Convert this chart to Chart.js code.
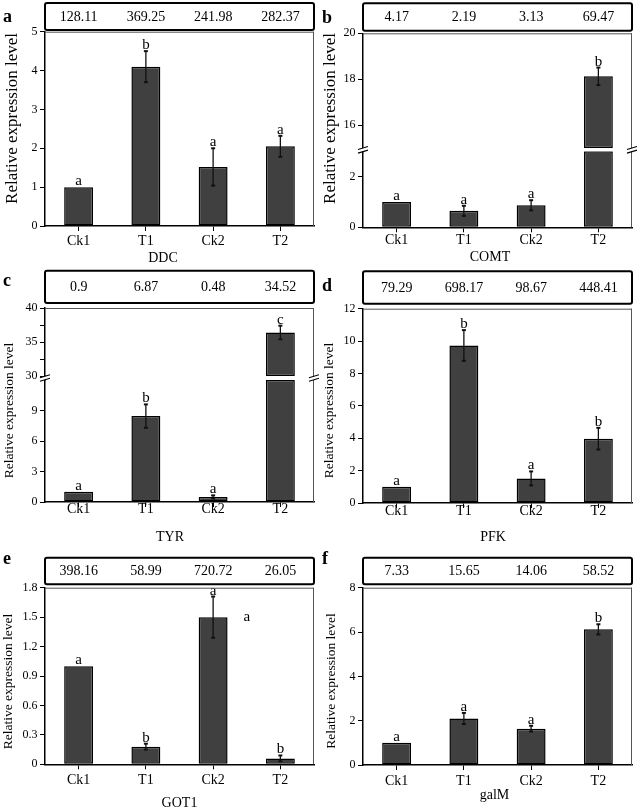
<!DOCTYPE html>
<html>
<head>
<meta charset="utf-8">
<script src="https://cdn.jsdelivr.net/npm/chart.js@4.4.0/dist/chart.umd.min.js"></script>
<style>
  html, body { margin: 0; padding: 0; background: #fff; }
  #fig { position: relative; width: 638px; height: 809px; overflow: hidden; background: #fff; }
  #fig canvas { position: absolute; }
</style>
</head>
<body>
<div id="fig">
  <canvas id="pA" width="319" height="280" style="left:0;top:0"></canvas>
  <canvas id="pB" width="319" height="280" style="left:319px;top:0"></canvas>
  <canvas id="pC" width="319" height="280" style="left:0;top:268px"></canvas>
  <canvas id="pD" width="319" height="280" style="left:319px;top:268px"></canvas>
  <canvas id="pE" width="319" height="280" style="left:0;top:536px"></canvas>
  <canvas id="pF" width="319" height="280" style="left:319px;top:536px"></canvas>
</div>
<script>
const FONT = "'Liberation Serif', 'Times New Roman', serif";

const categories = ['Ck1', 'T1', 'Ck2', 'T2'];

// --- a: DDC ---
const ddcValues = [1.0, 4.1, 1.52, 2.05];
const ddcErrors = [0, 0.4, 0.48, 0.27];
const ddcLetters = ['a', 'b', 'a', 'a'];
const ddcFold = [128.11, 369.25, 241.98, 282.37];
const ddcTicks = [0, 1, 2, 3, 4, 5];

// --- b: COMT (broken axis) ---
const comtValues = [1.0, 0.65, 0.87, 18.13];
const comtErrors = [0, 0.2, 0.2, 0.38];
const comtLetters = ['a', 'a', 'a', 'b'];
const comtFold = [4.17, 2.19, 3.13, 69.47];
const comtTicksLow = [0, 2];
const comtTicksHigh = [16, 18, 20];
const comtRangeLow = [0, 3];
const comtRangeHigh = [15, 20];

// --- c: TYR (broken axis) ---
const tyrValues = [1.0, 8.45, 0.5, 36.4];
const tyrErrors = [0, 1.15, 0.15, 1.0];
const tyrLetters = ['a', 'b', 'a', 'c'];
const tyrFold = [0.9, 6.87, 0.48, 34.52];
const tyrTicksLow = [0, 3, 6, 9];
const tyrTicksHigh = [30, 32.5, 35, 37.5, 40];
const tyrMinorHigh = [32.5, 37.5];
const tyrRangeLow = [0, 12];
const tyrRangeHigh = [30, 40];

// --- d: PFK ---
const pfkValues = [1.0, 9.73, 1.52, 3.97];
const pfkErrors = [0, 0.95, 0.43, 0.67];
const pfkLetters = ['a', 'b', 'a', 'b'];
const pfkFold = [79.29, 698.17, 98.67, 448.41];
const pfkTicks = [0, 2, 4, 6, 8, 10, 12];

// --- e: GOT1 ---
const gotValues = [1.0, 0.18, 1.5, 0.06];
const gotErrors = [0, 0.03, 0.21, 0.03];
const gotLetters = ['a', 'b', 'a', 'b'];
const gotFold = [398.16, 58.99, 720.72, 26.05];
const gotTicks = [0, 0.3, 0.6, 0.9, 1.2, 1.5, 1.8];

// --- f: galM ---
const galValues = [1.0, 2.1, 1.64, 6.12];
const galErrors = [0, 0.25, 0.13, 0.23];
const galLetters = ['a', 'a', 'a', 'b'];
const galFold = [7.33, 15.65, 14.06, 58.52];
const galTicks = [0, 2, 4, 6, 8];

// panel layout (canvas-local pixels)
const panels = [
  { id: 'pA', tag: 'a', gene: 'DDC', values: ddcValues, errors: ddcErrors, letters: ddcLetters, fold: ddcFold,
    ticks: ddcTicks, range: [0, 5],
    area: { left: 45, right: 314, top: 31.7, bottom: 226 }, boxY: [3, 30], tickY: 241,
    xTitle: [163, 258], yTitle: [13, 118.5, 17], tagY: 22 },
  { id: 'pB', tag: 'b', gene: 'COMT', values: comtValues, errors: comtErrors, letters: comtLetters, fold: comtFold,
    ticks: comtTicksLow, range: comtRangeLow, ticksHigh: comtTicksHigh, rangeHigh: comtRangeHigh, weights: [115, 3, 76],
    area: { left: 44, right: 313, top: 33.3, bottom: 227.3 }, boxY: [3.3, 30.7], tickY: 240.5,
    xTitle: [171, 257], yTitle: [12, 118.5, 17], tagY: 22.5 },
  { id: 'pC', tag: 'c', gene: 'TYR', values: tyrValues, errors: tyrErrors, letters: tyrLetters, fold: tyrFold,
    ticks: tyrTicksLow, range: tyrRangeLow, ticksHigh: tyrTicksHigh, minor: tyrMinorHigh, rangeHigh: tyrRangeHigh, weights: [68, 4, 122],
    area: { left: 45, right: 314, top: 40, bottom: 234 }, boxY: [2.7, 35], tickY: 241,
    xTitle: [170, 269], yTitle: [9, 142.5, 13.5], tagY: 17.5 },
  { id: 'pD', tag: 'd', gene: 'PFK', values: pfkValues, errors: pfkErrors, letters: pfkLetters, fold: pfkFold,
    ticks: pfkTicks, range: [0, 12],
    area: { left: 44, right: 313, top: 40.7, bottom: 235 }, boxY: [3.3, 35.7], tickY: 243.3,
    xTitle: [174, 269.5], yTitle: [10.5, 142.5, 13.5], tagY: 23 },
  { id: 'pE', tag: 'e', gene: 'GOT1', values: gotValues, errors: gotErrors, letters: gotLetters, fold: gotFold,
    ticks: gotTicks, range: [0, 1.8], stray: [{ text: 'a', cat: 2.5, value: 1.5 }],
    area: { left: 45, right: 314, top: 51.7, bottom: 228.3 }, boxY: [21.7, 48.3], tickY: 244,
    xTitle: [179.5, 267], yTitle: [8.5, 145.5, 13.5], tagY: 28.3 },
  { id: 'pF', tag: 'f', gene: 'galM', values: galValues, errors: galErrors, letters: galLetters, fold: galFold,
    ticks: galTicks, range: [0, 8],
    area: { left: 44, right: 313, top: 51.7, bottom: 229 }, boxY: [21.7, 48.3], tickY: 245,
    xTitle: [175.5, 259], yTitle: [12, 145, 13.5], tagY: 28.3 }
];

function line(ctx, x1, y1, x2, y2) {
  ctx.beginPath(); ctx.moveTo(x1, y1); ctx.lineTo(x2, y2); ctx.stroke();
}

function breakMark(ctx, x, y) {
  const d = 1.8;
  ctx.save();
  ctx.fillStyle = '#fff';
  ctx.beginPath();
  ctx.moveTo(x - 5, y - d + 1.5); ctx.lineTo(x + 5, y - d - 1.5);
  ctx.lineTo(x + 5, y + d - 1.5); ctx.lineTo(x - 5, y + d + 1.5);
  ctx.closePath(); ctx.fill();
  ctx.strokeStyle = '#000'; ctx.lineWidth = 1.1;
  line(ctx, x - 5, y - d + 1.5, x + 5, y - d - 1.5);
  line(ctx, x - 5, y + d + 1.5, x + 5, y + d - 1.5);
  ctx.restore();
}

function yScale(cfg, tickArr, range, extra) {
  return Object.assign({
    type: 'linear', position: 'left', min: range[0], max: range[1],
    border: { color: '#000', width: 1.5 },
    grid: { drawOnChartArea: false, color: '#000', tickLength: 5, tickWidth: 1 },
    ticks: {
      color: '#000', font: { family: FONT, size: 12 }, padding: 2.5, autoSkip: false,
      callback: v => (cfg.minor && cfg.minor.includes(v)) ? '' : String(v)
    },
    afterBuildTicks: s => { s.ticks = tickArr.map(v => ({ value: v })); },
    afterFit: s => { s.width = cfg.area.left; }
  }, extra || {});
}

function makePanel(cfg) {
  const canvas = document.getElementById(cfg.id);
  const W = canvas.width, H = canvas.height;
  const A = cfg.area;
  const broken = !!cfg.rangeHigh;
  const barStyle = {
    backgroundColor: '#404040', borderColor: '#000', borderWidth: 1.5, borderSkipped: false,
    barPercentage: 0.43, categoryPercentage: 1, grouped: false
  };

  let datasets, scales = {
    x: {
      type: 'category', offset: true,
      border: { color: '#000', width: 1.5 },
      grid: { drawOnChartArea: false, offset: false, color: '#000', tickLength: 5 },
      ticks: { color: '#000', font: { family: FONT, size: 14 }, padding: cfg.tickY - A.bottom - 5 - 8.4, maxRotation: 0, autoSkip: false },
      afterFit: s => { s.height = H - A.bottom; }
    }
  };

  if (broken) {
    const lowMax = cfg.range[1], highMin = cfg.rangeHigh[0];
    datasets = [
      Object.assign({ data: cfg.values.map(v => [cfg.range[0], Math.min(v, lowMax)]), yAxisID: 'y' }, barStyle),
      Object.assign({ data: cfg.values.map(v => v > highMin ? [highMin, v] : null), yAxisID: 'yHigh' }, barStyle)
    ];
    scales.yHigh = yScale(cfg, cfg.ticksHigh, cfg.rangeHigh, { stack: 'y', stackWeight: cfg.weights[0], weight: 3 });
    scales.yGap = yScale(cfg, [], [0, 1], {
      stack: 'y', stackWeight: cfg.weights[1], weight: 2,
      grid: { display: false }, ticks: { display: false }
    });
    scales.y = yScale(cfg, cfg.ticks, cfg.range, { stack: 'y', stackWeight: cfg.weights[2], weight: 1 });
  } else {
    datasets = [Object.assign({ data: cfg.values, yAxisID: 'y' }, barStyle)];
    scales.y = yScale(cfg, cfg.ticks, cfg.range);
  }

  const extras = {
    id: 'extras' + cfg.tag,
    afterDatasetsDraw(chart) {
      const ctx = chart.ctx, xs = chart.scales.x;
      ctx.save();
      cfg.values.forEach((v, i) => {
        const ys = (broken && v > cfg.range[1]) ? chart.scales.yHigh : chart.scales.y;
        const cx = xs.getPixelForValue(i);
        const e = cfg.errors[i];
        const yTop = ys.getPixelForValue(v + e);
        if (e > 0) {
          const yBot = ys.getPixelForValue(v - e);
          ctx.strokeStyle = '#111';
          ctx.lineWidth = 1.3;
          line(ctx, cx, yTop, cx, yBot);
          ctx.lineWidth = 2;
          line(ctx, cx - 2, yTop, cx + 2, yTop);
          line(ctx, cx - 2, yBot, cx + 2, yBot);
        }
        ctx.fillStyle = '#000';
        ctx.font = '15px ' + FONT;
        ctx.textAlign = 'center';
        ctx.textBaseline = 'alphabetic';
        ctx.fillText(cfg.letters[i], cx, yTop - 2);
      });
      (cfg.stray || []).forEach(s => {
        ctx.textBaseline = 'middle';
        ctx.fillText(s.text, xs.getPixelForValue(s.cat), chart.scales.y.getPixelForValue(s.value));
      });
      ctx.restore();
    },
    afterDraw(chart) {
      const ctx = chart.ctx, ca = chart.chartArea, xs = chart.scales.x;
      ctx.save();
      // thin frame on top and right
      ctx.strokeStyle = '#555';
      ctx.lineWidth = 1;
      line(ctx, ca.left, ca.top + 0.5, ca.right, ca.top + 0.5);
      line(ctx, ca.right - 0.5, ca.top, ca.right - 0.5, ca.bottom);
      // axis breaks
      if (broken) {
        const g = chart.scales.yGap;
        const gy = (g.top + g.bottom) / 2;
        breakMark(ctx, ca.left, gy);
        breakMark(ctx, ca.right, gy);
      }
      // box with fold-change numbers
      ctx.strokeStyle = '#000';
      ctx.lineWidth = 2;
      ctx.beginPath();
      ctx.roundRect(ca.left, cfg.boxY[0], ca.right - ca.left, cfg.boxY[1] - cfg.boxY[0], 2);
      ctx.stroke();
      ctx.fillStyle = '#000';
      ctx.font = '14px ' + FONT;
      ctx.textAlign = 'center';
      ctx.textBaseline = 'middle';
      const by = (cfg.boxY[0] + cfg.boxY[1]) / 2 + 0.5;
      cfg.fold.forEach((n, i) => ctx.fillText(String(n), xs.getPixelForValue(i), by));
      // x title
      ctx.fillText(cfg.gene, cfg.xTitle[0], cfg.xTitle[1]);
      // panel tag
      ctx.font = 'bold 18px ' + FONT;
      ctx.textAlign = 'left';
      ctx.textBaseline = 'alphabetic';
      ctx.fillText(cfg.tag, 3, cfg.tagY);
      // y title
      ctx.translate(cfg.yTitle[0], cfg.yTitle[1]);
      ctx.rotate(-Math.PI / 2);
      ctx.font = cfg.yTitle[2] + 'px ' + FONT;
      ctx.textAlign = 'center';
      ctx.textBaseline = 'middle';
      ctx.fillText('Relative expression level', 0, 0);
      ctx.restore();
    }
  };

  return new Chart(canvas, {
    type: 'bar',
    data: { labels: categories, datasets: datasets },
    options: {
      responsive: false,
      animation: false,
      layout: { padding: { left: 0, right: W - A.right, top: A.top, bottom: 0 } },
      plugins: { legend: { display: false }, tooltip: { enabled: false } },
      scales: scales
    },
    plugins: [extras]
  });
}

panels.forEach(makePanel);
</script>
</body>
</html>
